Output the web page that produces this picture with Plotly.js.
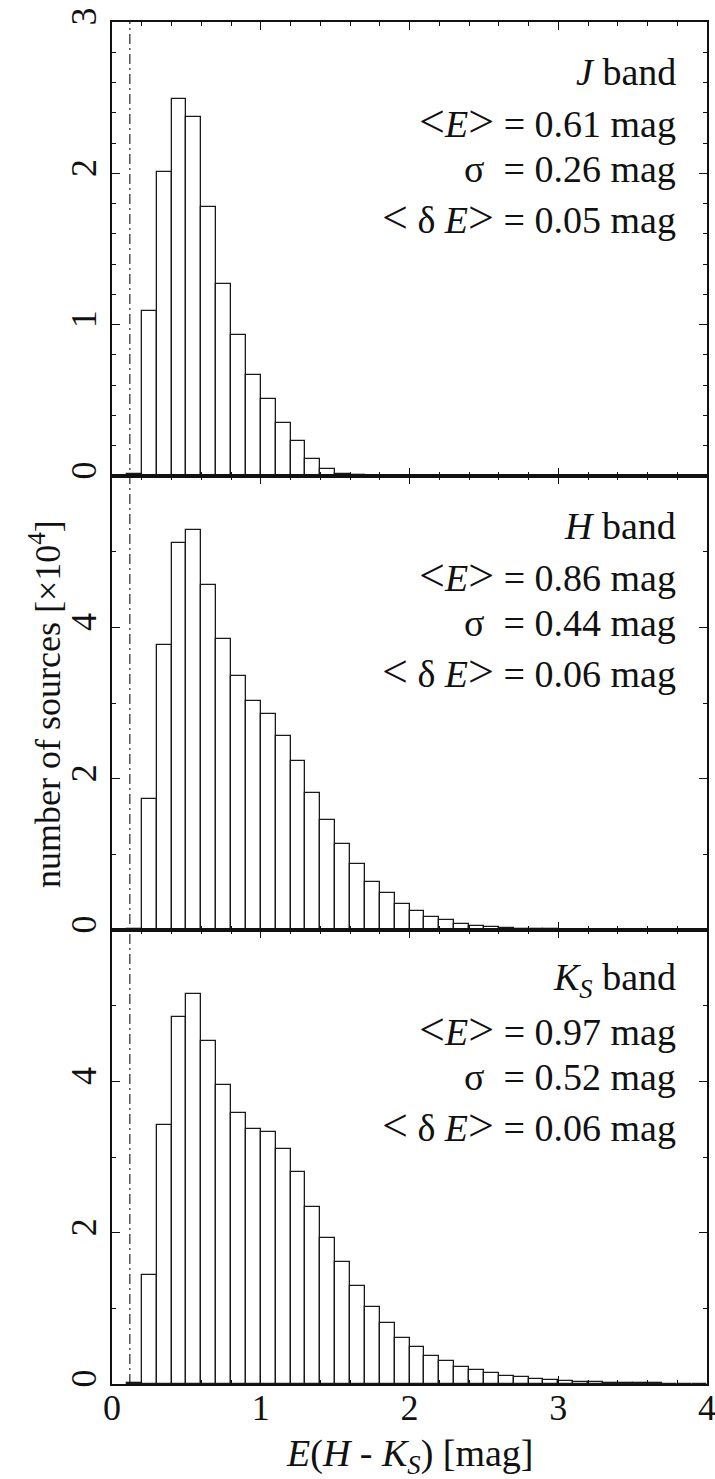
<!DOCTYPE html>
<html>
<head>
<meta charset="utf-8">
<script src="https://cdn.plot.ly/plotly-3.0.1.min.js"></script>
<style>html,body{margin:0;padding:0;background:#fff;}</style>
</head>
<body>
<div id="chart" style="width:715px;height:1479px;"></div>
<script>
// Bin centres (bin width 0.1 mag)
const binCenters = [0.15,0.25,0.35,0.45,0.55,0.65,0.75,0.85,0.95,1.05,1.15,1.25,1.35,1.45,1.55,1.65,1.75,1.85,1.95,2.05,2.15,2.25,2.35,2.45,2.55,2.65,2.75,2.85,2.95,3.05,3.15,3.25,3.35,3.45,3.55,3.65,3.75,3.85,3.95];
const binWidth = 0.1;

// Counts in units of 10^4
const countsJ = [0.01,1.09,2.01,2.49,2.37,1.78,1.27,0.93,0.67,0.51,0.35,0.23,0.11,0.045,0.016,0.007,0.003,0.001];
const countsH = [0.01,1.73,3.76,5.11,5.28,4.56,3.84,3.36,3.02,2.85,2.56,2.23,1.81,1.45,1.14,0.87,0.63,0.49,0.34,0.25,0.17,0.128,0.08,0.056,0.035,0.026,0.018,0.013,0.009,0.005,0.003,0.002];
const countsK = [0.01,1.44,3.42,4.85,5.16,4.53,3.95,3.58,3.37,3.33,3.11,2.80,2.34,1.93,1.61,1.30,1.02,0.81,0.61,0.49,0.37,0.30,0.23,0.19,0.14,0.11,0.089,0.07,0.056,0.042,0.033,0.025,0.018,0.013,0.010,0.007,0.005,0.004,0.003];

// Cut-off marked by the dash-dot line
const cutoff = 0.12;

// Panel labels
const bandLabels = ["<i>J</i> band", "<i>H</i> band", "<i>K<sub>S</sub></i> band"];
const meanE = ["0.61", "0.86", "0.97"];
const sigmaE = ["0.26", "0.44", "0.52"];
const meanErr = ["0.05", "0.06", "0.06"];

const xTickVals = [0,1,2,3,4];
const xTickText = ["0","1","2","3","4"];

var FAM = 'Liberation Serif';
var FSZ = 36;
var FSA = 38;

function barTrace(vals, xa, ya) {
  return {type: 'bar', x: binCenters.slice(0, vals.length), y: vals, width: binWidth,
    xaxis: xa, yaxis: ya, marker: {color: '#ffffff', line: {color: '#1a1a1a', width: 1.3}}, hoverinfo: 'skip'};
}
var data = [barTrace(countsJ, 'x', 'y'), barTrace(countsH, 'x2', 'y2'), barTrace(countsK, 'x3', 'y3')];

function xAxis(anchor, showLabels) {
  return {anchor: anchor, domain: [0, 1], range: [0, 4],
    tickmode: 'array', tickvals: xTickVals, ticktext: xTickText,
    showticklabels: showLabels, ticklabeloverflow: 'allow', ticklabelstandoff: -9,
    ticks: 'inside', ticklen: 8, tickwidth: 1.3, tickcolor: '#111',
    minor: {dtick: 0.2, tick0: 0, ticks: 'inside', ticklen: 4, tickwidth: 1.2, tickcolor: '#111', showgrid: false},
    showline: true, linecolor: '#111', linewidth: 1.6, mirror: 'allticks',
    showgrid: false, zeroline: false, fixedrange: true,
    tickfont: {family: FAM, size: FSZ, color: '#111'}};
}
function yAxis(anchor, domain, range, tickvals, ticktext, minorDt) {
  return {anchor: anchor, domain: domain, range: range,
    tickmode: 'array', tickvals: tickvals, ticktext: ticktext, tickangle: -90,
    ticklabeloverflow: 'allow',
    ticks: 'inside', ticklen: 8, tickwidth: 1.3, tickcolor: '#111',
    minor: {dtick: minorDt, tick0: 0, ticks: 'inside', ticklen: 4, tickwidth: 1.2, tickcolor: '#111', showgrid: false},
    showline: true, linecolor: '#111', linewidth: 1.6, mirror: 'allticks',
    showgrid: false, zeroline: false, fixedrange: true,
    tickfont: {family: FAM, size: FSZ, color: '#111'}};
}

var M = {l: 112, r: 8, t: 22, b: 95};
var plotH = 1479 - M.t - M.b;
var plotW = 715 - M.l - M.r;
var panelTops = [1, 2/3, 1/3];
var rowOffsets = [50, 99, 147, 195];
var textX = (678 - M.l) / plotW;

var LT = '<span style="font-size:46px">&lt;</span>';
var GT = '<span style="font-size:46px">&gt;</span>';

var annotations = [];
for (var i = 0; i < 3; i++) {
  var lines = [bandLabels[i],
    LT + '<i>E</i>' + GT + ' = ' + meanE[i] + ' mag',
    '\u03C3&nbsp; = ' + sigmaE[i] + ' mag',
    LT + ' \u03B4 <i>E</i>' + GT + ' = ' + meanErr[i] + ' mag'];
  for (var k = 0; k < 4; k++) {
    annotations.push({xref: 'paper', yref: 'paper', x: textX, y: panelTops[i] - rowOffsets[k] / plotH,
      xanchor: 'right', yanchor: 'middle', text: lines[k], showarrow: false,
      font: {family: FAM, size: FSA, color: '#111'}});
  }
}
// y-axis title
annotations.push({xref: 'paper', yref: 'paper', x: (45 - M.l) / plotW, y: 1 - (704 - M.t) / plotH,
  xanchor: 'center', yanchor: 'middle', textangle: -90,
  text: 'number of sources [\u00D710<sup>4</sup>]', showarrow: false,
  font: {family: FAM, size: FSZ, color: '#111'}});
// x-axis title
annotations.push({xref: 'paper', yref: 'paper', x: 0.5, y: -(1456 - (M.t + plotH)) / plotH,
  xanchor: 'center', yanchor: 'middle',
  text: '<i>E</i>(<i>H</i> - <i>K<sub>S</sub></i>) [mag]', showarrow: false,
  font: {family: FAM, size: FSA, color: '#111'}});

var layout = {width: 715, height: 1479, margin: M,
  paper_bgcolor: '#ffffff', plot_bgcolor: '#ffffff', showlegend: false, bargap: 0,
  font: {color: '#111'},
  xaxis: xAxis('y', false), xaxis2: xAxis('y2', false), xaxis3: xAxis('y3', true),
  yaxis: yAxis('x', [2/3, 1], [0, 3], [0,1,2,3], ['0','1','2','3'], 0.2),
  yaxis2: yAxis('x2', [1/3, 2/3], [0, 6], [0,2,4,6], ['0','2','4',''], 1),
  yaxis3: yAxis('x3', [0, 1/3], [0, 6], [0,2,4,6], ['0','2','4',''], 1),
  shapes: [{type: 'line', xref: 'x3', yref: 'paper', x0: cutoff, x1: cutoff, y0: 0, y1: 1,
    line: {color: '#111', width: 1.1, dash: '10px,4px,2px,4px'}}],
  annotations: annotations};

Plotly.newPlot('chart', data, layout, {displayModeBar: false});
</script>
</body>
</html>
